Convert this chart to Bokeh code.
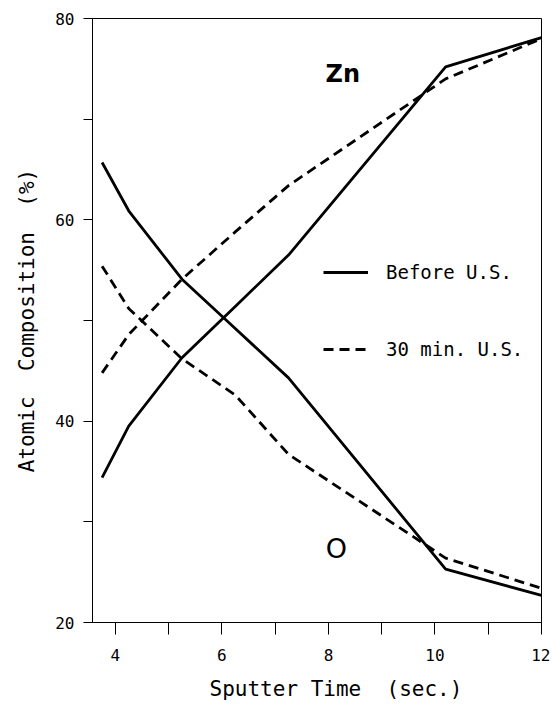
from bokeh.plotting import figure
from bokeh.models import Range1d, FixedTicker, Legend, LegendItem
from bokeh.core.properties import value
from bokeh.embed import file_html
from bokeh.resources import INLINE

# Data
time_s = [3.75, 4.25, 5.25, 6.25, 7.25, 10.2, 12.0]
zn_before = [34.4, 39.5, 46.3, 51.4, 56.5, 75.2, 78.1]
o_before = [65.7, 60.9, 54.1, 49.2, 44.3, 25.3, 22.7]
zn_30min = [44.8, 48.6, 54.1, 58.8, 63.4, 74.0, 78.0]
o_30min = [55.4, 51.2, 46.2, 42.6, 36.7, 26.4, 23.4]

x_ticks = [4, 6, 8, 10, 12]
x_minor = [5, 7, 9, 11]
y_ticks = [20, 40, 60, 80]
y_minor = [30, 50, 70]

series_labels = ["Before U.S.", "30 min. U.S."]
element_labels = ["Zn", "O"]
element_x = [8.27, 8.15]
element_y = [74.5, 27.4]

FONT = "DejaVu Sans Mono"
NB = "\u00a0"
# leading non-breaking spaces shift the centred title right, as in the reference
x_title = NB * 3 + "Sputter" + NB + "Time" + NB + NB + "(sec.)"
y_title = "Atomic" + NB + NB + "Composition" + NB + NB + "(%)"

p = figure(width=550, height=705, output_backend="svg", toolbar_location=None,
           x_range=Range1d(3.57, 12.0), y_range=Range1d(20, 80))
p.min_border_left = 92
p.min_border_right = 9
p.min_border_top = 18
p.min_border_bottom = 83
p.grid.visible = False
p.outline_line_color = "black"
p.outline_line_width = 1
p.background_fill_color = "white"
p.border_fill_color = "white"

for ax in (p.xaxis[0], p.yaxis[0]):
    ax.axis_line_color = "black"
    ax.major_tick_line_color = "black"
    ax.minor_tick_line_color = "black"
    ax.major_tick_in = 0
    ax.minor_tick_in = 0
    ax.major_label_text_font = FONT
    ax.major_label_text_font_size = "16px"
    ax.major_label_text_color = "black"
    ax.axis_label_text_font = FONT
    ax.axis_label_text_font_style = "normal"
    ax.axis_label_text_font_size = "21px"
    ax.axis_label_text_color = "black"

p.xaxis.ticker = FixedTicker(ticks=x_ticks, minor_ticks=x_minor)
p.yaxis.ticker = FixedTicker(ticks=y_ticks, minor_ticks=y_minor)
p.xaxis.major_tick_out = 12
p.xaxis.minor_tick_out = 12
p.yaxis.major_tick_out = 9
p.yaxis.minor_tick_out = 9
p.xaxis.major_label_standoff = 14
p.yaxis.major_label_standoff = 9
p.xaxis.axis_label = x_title
p.yaxis.axis_label = y_title
p.xaxis.axis_label_standoff = 13
p.yaxis.axis_label_standoff = 13

lw = 2.8
dash = "10 6"
r1 = p.line(time_s, zn_before, line_color="black", line_width=lw)
p.line(time_s, o_before, line_color="black", line_width=lw)
r2 = p.line(time_s, zn_30min, line_color="black", line_width=lw, line_dash=dash)
p.line(time_s, o_30min, line_color="black", line_width=lw, line_dash=dash)

p.text(x=element_x[:1], y=element_y[:1], text=element_labels[:1],
       text_font=value("DejaVu Sans"), text_font_size="24px", text_color="black",
       text_align="center", text_baseline="middle", text_font_style="bold")
p.text(x=element_x[1:], y=element_y[1:], text=element_labels[1:],
       text_font=value("DejaVu Sans"), text_font_size="27px", text_color="black",
       text_align="center", text_baseline="middle")

legend = Legend(items=[LegendItem(label=series_labels[0], renderers=[r1]),
                       LegendItem(label=series_labels[1], renderers=[r2])],
                location=(231, 262), orientation="vertical")
legend.glyph_width = 45
legend.glyph_height = 20
legend.label_height = 20
legend.spacing = 55
legend.padding = 0
legend.margin = 0
legend.label_standoff = 18
legend.border_line_color = None
legend.background_fill_alpha = 0
legend.label_text_font = FONT
legend.label_text_font_size = "19px"
legend.label_text_color = "black"
p.add_layout(legend, "center")

open("out.html", "w").write(file_html(p, INLINE))
